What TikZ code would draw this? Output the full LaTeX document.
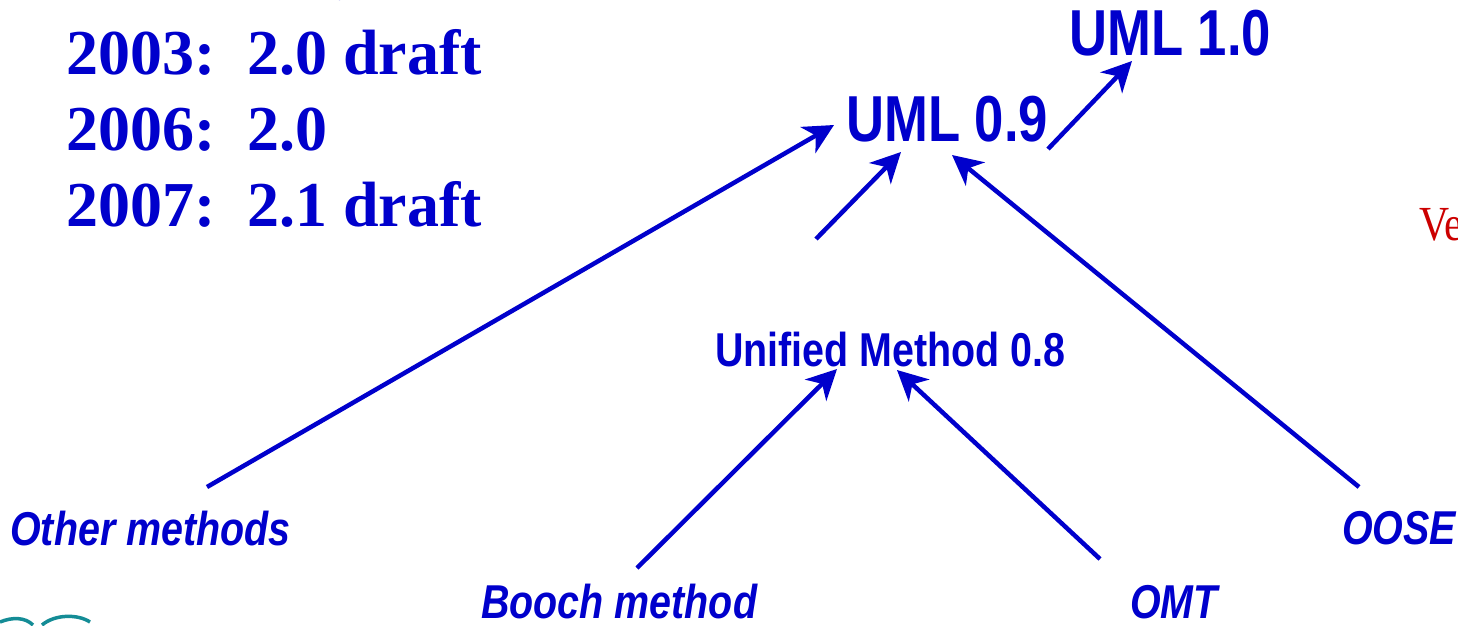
\documentclass[tikz,border=0pt]{standalone}
\usepackage{fontspec}
\setmainfont{Liberation Serif}
\newfontfamily\umlsans[FakeStretch=0.81]{Liberation Sans}
\newfontfamily\umlsansmid[FakeStretch=0.83]{Liberation Sans}
\newfontfamily\redserif[FakeStretch=0.85]{Liberation Serif}
\usetikzlibrary{arrows.meta}
\definecolor{umlblue}{RGB}{0,0,204}
\definecolor{umlred}{RGB}{204,0,0}
\definecolor{logoteal}{RGB}{20,140,150}
\tikzset{
  yeartext/.style={anchor=base west, inner sep=0pt, text=umlblue, font=\fontsize{64}{64}\selectfont\bfseries},
  bigtext/.style={anchor=base west, inner sep=0pt, text=umlblue, font=\umlsans\fontsize{65}{65}\selectfont\bfseries},
  midtext/.style={anchor=base west, inner sep=0pt, text=umlblue, font=\umlsansmid\fontsize{47.5}{47.5}\selectfont\bfseries},
  methodtext/.style={anchor=base west, inner sep=0pt, text=umlblue, font=\umlsansmid\fontsize{47.5}{47.5}\selectfont\bfseries\itshape},
  flow/.style={draw=umlblue, line width=4.5pt, -{Stealth[length=30pt, width=30pt, inset=9pt]}}
}
\begin{document}
\begin{tikzpicture}[x=1pt, y=-1pt]
\useasboundingbox (0,0) rectangle (1458,625);
\fill[white] (0,0) rectangle (1458,625);

% left list
\node[yeartext] (y2003) at (66,74) {2003:};
\node[yeartext] (v2003) at (247,74) {2.0 draft};
\node[yeartext] (y2006) at (66,150) {2006:};
\node[yeartext] (v2006) at (247,150) {2.0};
\node[yeartext] (y2007) at (66,226) {2007:};
\node[yeartext] (v2007) at (247,226) {2.1 draft};

% partial bracket at top
\draw[umlblue, line width=2pt] (340,0) arc[start angle=0, end angle=-80, radius=9];

% UML versions
\node[bigtext] (uml10) at (1069,55) {UML 1.0};
\node[bigtext] (uml09) at (846,141) {UML 0.9};
\node[midtext] (um08) at (715,366) {Unified Method 0.8};

% methods
\node[methodtext] (other) at (10,545) {Other methods};
\node[methodtext] (booch) at (481,618) {Booch method};
\node[methodtext] (omt) at (1130,618) {OMT};
\node[methodtext] (oose) at (1342,544) {OOSE};

% cropped red text at right edge
\node[anchor=base west, inner sep=0pt, text=umlred, font=\redserif\fontsize{49}{49}\selectfont] (ve) at (1419,240) {Ve};

% connector end points
\coordinate (otherS) at (207,487);
\coordinate (uml09A) at (834,125);
\coordinate (umS) at (816,239);
\coordinate (uml09B) at (901,152);
\coordinate (ooseS) at (1359,487);
\coordinate (uml09C) at (952,155);
\coordinate (uml09S) at (1048,149);
\coordinate (uml10A) at (1132,61);
\coordinate (boochS) at (637,568);
\coordinate (umA) at (837,369);
\coordinate (omtS) at (1100,559);
\coordinate (umB) at (897,370);

\draw[flow] (otherS) -- (uml09A);
\draw[flow] (umS) -- (uml09B);
\draw[flow] (ooseS) -- (uml09C);
\draw[flow] (uml09S) -- (uml10A);
\draw[flow] (boochS) -- (umA);
\draw[flow] (omtS) -- (umB);

% cropped logo at bottom left
\draw[logoteal, line width=3.5pt] (0,622) .. controls (12,617) and (25,617) .. (33,625);
\draw[logoteal, line width=3.5pt] (42,625) .. controls (55,614) and (78,614) .. (90,622);
\end{tikzpicture}
\end{document}
